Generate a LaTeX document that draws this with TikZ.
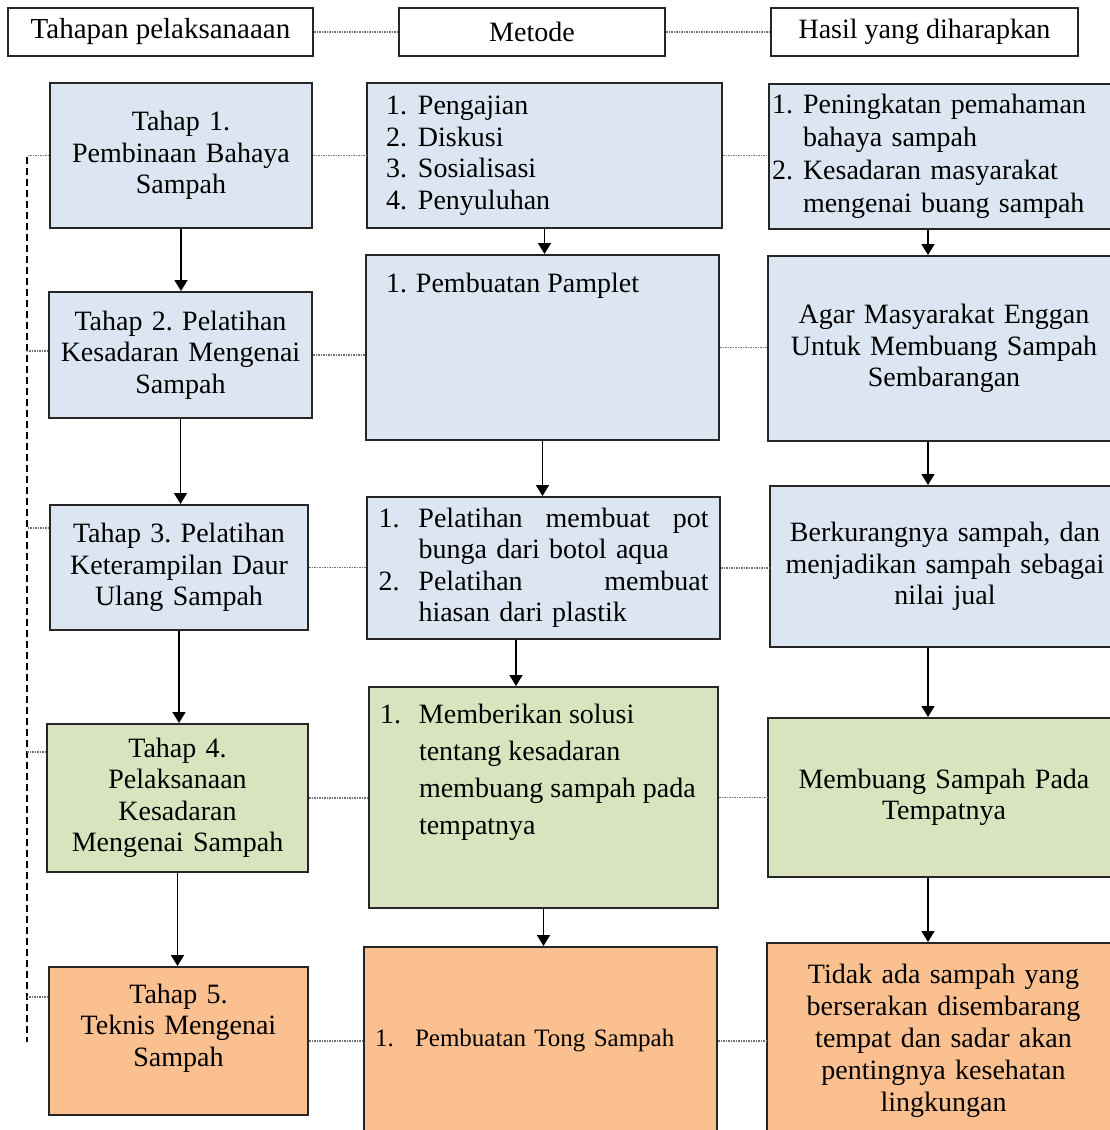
\documentclass[tikz,border=0pt]{standalone}
\usepackage{fontspec}
\setmainfont{Liberation Serif}
\usetikzlibrary{arrows.meta}
\definecolor{biru}{RGB}{220,230,242}
\definecolor{hijau}{RGB}{215,228,189}
\definecolor{oranye}{RGB}{250,192,144}
\newcommand{\nomor}[2]{\makebox[#1][l]{#2}}
\newcommand{\renggang}{\hskip 0pt plus 1filll\relax}
\frenchspacing
\begin{document}
\begin{tikzpicture}[x=1pt,y=-1pt]
\tikzset{kotak/.style={draw=black!85,line width=2pt,inner sep=0pt,font={\fontsize{28}{31.5}\selectfont}},
  tengah/.style={kotak,align=center},
  alur/.style={line width=1.6pt,-{Triangle[width=13pt,length=11pt]}},
  titik/.style={draw=black!55,line width=1.3pt,dash pattern=on 1.5pt off 1pt}}
\useasboundingbox (0,0) rectangle (1109,1130);
\node[tengah,fill=white,minimum width=305pt,minimum height=48pt,font={\fontsize{29}{32}\selectfont}] (kTahap) at (160.5,32) {Tahapan pelaksanaaan};
\node[tengah,fill=white,minimum width=266pt,minimum height=48pt] (kMetode) at (532,32) {Metode};
\node[tengah,fill=white,minimum width=307pt,minimum height=48pt] (kHasil) at (924.5,32) {Hasil yang diharapkan};
\node[tengah,fill=biru,minimum width=262pt,minimum height=145pt,text width=250pt] (t1) at (181,155.5) {Tahap 1.\\Pembinaan Bahaya\\Sampah};
\node[tengah,fill=biru,minimum width=263pt,minimum height=126pt,text width=250pt] (t2) at (180.5,355) {Tahap 2. Pelatihan\\Kesadaran Mengenai\\Sampah};
\node[tengah,fill=biru,minimum width=258pt,minimum height=125pt,text width=246pt] (t3) at (179,567.5) {Tahap 3. Pelatihan\\Keterampilan Daur\\Ulang Sampah};
\node[tengah,fill=hijau,minimum width=261pt,minimum height=148pt,text width=249pt] (t4) at (177.5,798) {Tahap 4.\\Pelaksanaan\\Kesadaran\\Mengenai Sampah};
\node[tengah,fill=oranye,minimum width=259pt,minimum height=148pt,text width=247pt] (t5) at (178.5,1041) {Tahap 5.\\Teknis Mengenai\\Sampah\\\mbox{}};
\node[kotak,fill=biru,minimum width=355pt,minimum height=145pt,text width=317pt,align=left] (m1) at (544.5,155.5) {\nomor{32pt}{1.}Pengajian\\\nomor{32pt}{2.}Diskusi\\\nomor{32pt}{3.}Sosialisasi\\\nomor{32pt}{4.}Penyuluhan};
\node[kotak,fill=biru,minimum width=353pt,minimum height=185pt] (m2) at (542.5,347.5) {\parbox[c][185pt][t]{313pt}{\vspace*{18pt}\nomor{30pt}{1.}Pembuatan Pamplet}};
\node[kotak,fill=biru,minimum width=353pt,minimum height=142pt,text width=330pt,align=left] (m3) at (543.5,568) {\nomor{40pt}{1.}Pelatihan\renggang membuat\renggang pot\\\hspace*{40pt}bunga dari botol aqua\\\nomor{40pt}{2.}Pelatihan\renggang membuat\\\hspace*{40pt}hiasan dari plastik};
\node[kotak,fill=hijau,minimum width=349pt,minimum height=221pt] (m4) at (543.5,797.5) {\parbox[c][221pt][t]{327pt}{\fontsize{28}{37}\selectfont\vspace*{17pt}\nomor{39pt}{1.}Memberikan solusi\\\hspace*{39pt}tentang kesadaran\\\hspace*{39pt}membuang sampah pada\\\hspace*{39pt}tempatnya}};
\node[kotak,fill=oranye,minimum width=353pt,minimum height=188pt,text width=331pt,align=left,font={\fontsize{25}{30}\selectfont}] (m5) at (540.5,1041) {\nomor{40pt}{1.}Pembuatan Tong Sampah};
\node[kotak,fill=biru,minimum width=351pt,minimum height=145pt,text width=345pt,align=left,font={\fontsize{28}{33}\selectfont}] (h1) at (944.5,156.5) {\nomor{31pt}{1.}Peningkatan pemahaman\\\hspace*{31pt}bahaya sampah\\\nomor{31pt}{2.}Kesadaran masyarakat\\\hspace*{31pt}mengenai buang sampah};
\node[tengah,fill=biru,minimum width=352pt,minimum height=185pt,text width=336pt] (h2) at (944,348.5) {Agar Masyarakat Enggan\\Untuk Membuang Sampah\\Sembarangan};
\node[tengah,fill=biru,minimum width=350pt,minimum height=161pt,text width=336pt] (h3) at (945,566.5) {Berkurangnya sampah, dan\\menjadikan sampah sebagai\\nilai jual};
\node[tengah,fill=hijau,minimum width=352pt,minimum height=159pt,text width=336pt] (h4) at (944,797.5) {Membuang Sampah Pada\\Tempatnya};
\node[tengah,fill=oranye,minimum width=353pt,minimum height=196pt,text width=336pt,font={\fontsize{28}{32}\selectfont}] (h5) at (943.5,1041) {Tidak ada sampah yang\\berserakan disembarang\\tempat dan sadar akan\\pentingnya kesehatan\\lingkungan};
\draw[titik] (kTahap) -- (kMetode);
\draw[titik] (kMetode) -- (kHasil);
\foreach \i in {1,...,5} {
  \draw[titik] (t\i.east) -- (t\i.east -| m\i.west);
  \draw[titik] (m\i.east) -- (m\i.east -| h\i.west);
}
\draw[alur] (t1.south) -- (t1.south |- t2.north);
\draw[alur] (t2.south) -- (t2.south |- t3.north);
\draw[alur] (t3.south) -- (t3.south |- t4.north);
\draw[alur] (t4.south) -- (t4.south |- t5.north);
\draw[alur] (m1.south) -- (m1.south |- m2.north);
\draw[alur] (m2.south) -- (m2.south |- m3.north);
\draw[alur] ([xshift=-27.5pt]m3.south) -- ([xshift=-27.5pt]m3.south |- m4.north);
\draw[alur] (m4.south) -- (m4.south |- m5.north);
\coordinate (jalurH) at (928,0);
\draw[alur] (h1.south -| jalurH) -- (h2.north -| jalurH);
\draw[alur] (h2.south -| jalurH) -- (h3.north -| jalurH);
\draw[alur] (h3.south -| jalurH) -- (h4.north -| jalurH);
\draw[alur] (h4.south -| jalurH) -- (h5.north -| jalurH);
\coordinate (garisAtas) at (27,157);
\coordinate (garisBawah) at (27,1042);
\draw[line width=1.8pt,dash pattern=on 7pt off 4pt] (garisAtas) -- (garisBawah);
\draw[titik] (t1.west) -- (t1.west -| garisAtas);
\draw[titik] ([yshift=4pt]t2.west) -- ([yshift=4pt]t2.west -| garisAtas);
\draw[titik] ([yshift=39.5pt]t3.west) -- ([yshift=39.5pt]t3.west -| garisAtas);
\draw[titik] ([yshift=46pt]t4.west) -- ([yshift=46pt]t4.west -| garisAtas);
\draw[titik] ([yshift=44pt]t5.west) -- ([yshift=44pt]t5.west -| garisAtas);
\end{tikzpicture}
\end{document}
